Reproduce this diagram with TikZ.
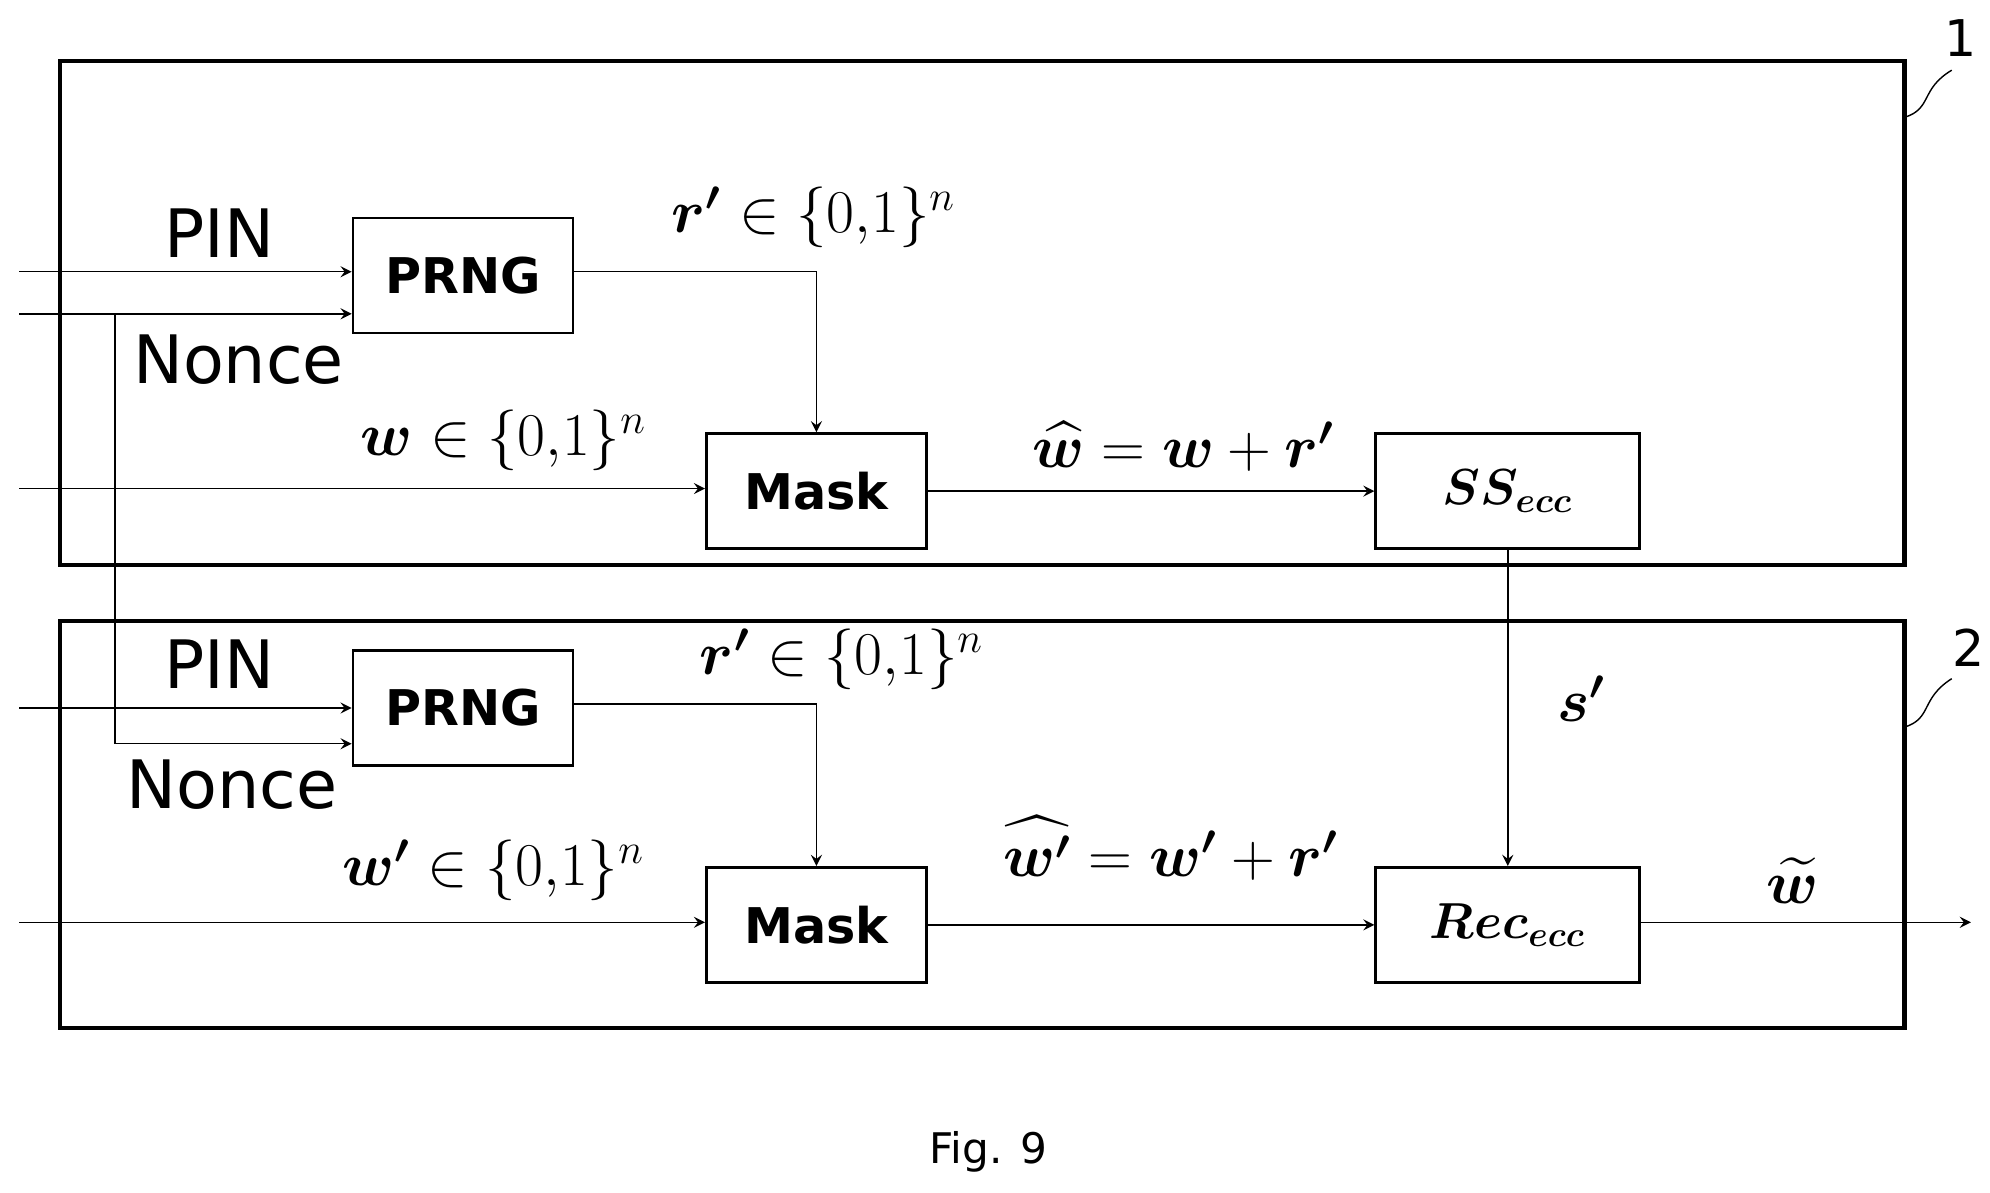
\documentclass[tikz,border=0pt]{standalone}
\usepackage{amsmath,amssymb,bm}
\usepackage{fontspec}
\setsansfont{DejaVu Sans}
\usetikzlibrary{arrows, positioning}
\begin{document}
\begin{tikzpicture}[x=0.01276cm,y=-0.01276cm]
			\tikzstyle{Block} = [rectangle, minimum width=2.2cm, minimum height=1.15cm, text centered, draw=black, thick, font=\sffamily\bfseries\fontsize{14}{14}\selectfont]
			\tikzstyle{WideBlock} = [Block, minimum width=2.64cm]
			\tikzstyle{Frame} = [draw=black, very thick]
			\tikzstyle{arrow} = [->,>=stealth]
			\tikzstyle{Txt} = [font=\sffamily\fontsize{19}{19}\selectfont]
			\tikzstyle{MathTxt} = [font=\fontsize{18}{18}\selectfont, inner sep=1pt]
			
			\useasboundingbox (0,0) rectangle (1560,935);
			
			\draw[Frame] (47,48) rectangle (1493,443);
			\draw[Frame] (47,487) rectangle (1493,806);
			\node (unit1) at (1537,30) {\sffamily\Large 1};
			\node (unit2) at (1543,508) {\sffamily\Large 2};
			\draw (1493,92) .. controls (1515,85) and (1505,70) .. (1530,55);
			\draw (1493,570) .. controls (1515,563) and (1505,548) .. (1530,532);
			
			% device 1
			\node (prng1) [Block] at (363,216) {PRNG};
			\node (mask1) [Block] at (640,385) {Mask};
			\node (ss) [WideBlock] at (1182,385) {$\bm{SS_{ecc}}$};
			
			% device 2
			\node (prng2) [Block] at (363,555) {PRNG};
			\node (mask2) [Block] at (640,725) {Mask};
			\node (rec) [WideBlock] at (1182,725) {$\bm{Rec_{ecc}}$};
			
			\coordinate (pin1In) at (15,213);
			\coordinate (nonce1In) at (15,246);
			\coordinate (nonceSplit) at (90,246);
			\coordinate (nonceDown) at (90,583);
			\coordinate (pin2In) at (15,555);
			\coordinate (w1In) at (15,383);
			\coordinate (w2In) at (15,723);
			\coordinate (out) at (1545,723);
			\coordinate (r1Turn) at (640,213);
			\coordinate (r2Turn) at (640,552);
			
			\draw[arrow] (pin1In) -- (pin1In -| prng1.west);
			\draw[arrow] (nonce1In) -- (nonce1In -| prng1.west);
			\draw[arrow] (nonceSplit) -- (nonceDown) -- (nonceDown -| prng2.west);
			\draw[arrow] (pin2In) -- (pin2In -| prng2.west);
			\draw[arrow] (prng1.east |- r1Turn) -- (r1Turn) -- (mask1.north);
			\draw[arrow] (prng2.east |- r2Turn) -- (r2Turn) -- (mask2.north);
			\draw[arrow] (w1In) -- (w1In -| mask1.west);
			\draw[arrow] (mask1) -- (ss);
			\draw[arrow] (ss.south) -- (rec.north);
			\draw[arrow] (w2In) -- (w2In -| mask2.west);
			\draw[arrow] (mask2) -- (rec);
			\draw[arrow] (rec.east |- out) -- (out);
			
			\node (pinLabel1) [Txt] at (172,183) {PIN};
			\node (nonceLabel1) [Txt] at (187,282) {Nonce};
			\node (pinLabel2) [Txt] at (172,521) {PIN};
			\node (nonceLabel2) [Txt] at (182,615) {Nonce};
			\node (rLabel1) [MathTxt] at (638,170) {$\bm{r'} \in \{0{,}1\}^n$};
			\node (rLabel2) [MathTxt] at (660,517) {$\bm{r'} \in \{0{,}1\}^n$};
			\node (wLabel1) [MathTxt] at (395,345) {$\bm{w} \in \{0{,}1\}^n$};
			\node (wLabel2) [MathTxt] at (387,682) {$\bm{w'} \in \{0{,}1\}^n$};
			\node (hatLabel1) [MathTxt] at (928,350) {$\widehat{\bm{w}} = \bm{w} + \bm{r'}$};
			\node (hatLabel2) [MathTxt] at (918,665) {$\widehat{\bm{w'}} = \bm{w'} + \bm{r'}$};
			\node (sLabel) [MathTxt] at (1240,548) {$\bm{s'}$};
			\node (tildeLabel) [MathTxt] at (1405,690) {$\widetilde{\bm{w}}$};
			\node (caption) at (775,903) {\sffamily\large Fig. 9};
		\end{tikzpicture}
\end{document}
